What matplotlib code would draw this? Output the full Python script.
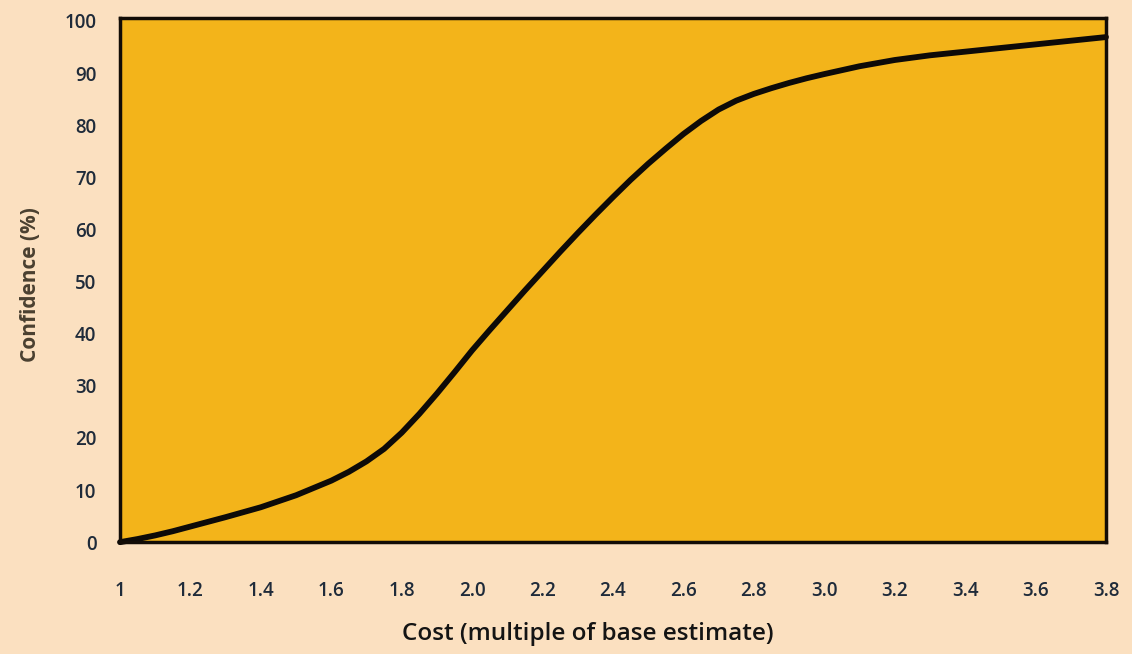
import numpy as np
import matplotlib
matplotlib.use("Agg")
import matplotlib.pyplot as plt

# ==========================
# Data
# ==========================
cost = [1.0, 1.05, 1.1, 1.15, 1.2, 1.3, 1.4, 1.5, 1.6, 1.65, 1.7, 1.75, 1.8,
        1.85, 1.9, 1.95, 2.0, 2.05, 2.1, 2.15, 2.2, 2.25, 2.3, 2.35, 2.4,
        2.45, 2.5, 2.55, 2.6, 2.65, 2.7, 2.75, 2.8, 2.85, 2.9, 2.95, 3.0,
        3.1, 3.2, 3.3, 3.4, 3.5, 3.6, 3.7, 3.8]
confidence = [0.0, 0.6, 1.3, 2.1, 3.0, 4.8, 6.7, 9.0, 11.8, 13.5, 15.5, 17.9,
              21.0, 24.6, 28.5, 32.6, 36.8, 40.7, 44.5, 48.3, 52.0, 55.7,
              59.3, 62.8, 66.2, 69.5, 72.6, 75.5, 78.3, 80.8, 83.0, 84.7,
              86.0, 87.1, 88.1, 89.0, 89.8, 91.3, 92.5, 93.4, 94.1, 94.8,
              95.5, 96.2, 96.9]

x_ticks = [1.0, 1.2, 1.4, 1.6, 1.8, 2.0, 2.2, 2.4, 2.6, 2.8, 3.0, 3.2, 3.4, 3.6, 3.8]
x_tick_labels = ["1", "1.2", "1.4", "1.6", "1.8", "2.0", "2.2", "2.4", "2.6",
                 "2.8", "3.0", "3.2", "3.4", "3.6", "3.8"]
y_ticks = [0, 10, 20, 30, 40, 50, 60, 70, 80, 90, 100]

# ==========================
# Styling
# ==========================
bg = "#fbe0c0"
panel = "#f3b41a"
tick_col = "#1f2b3a"
plt.rcParams['font.family'] = ['Open Sans', 'DejaVu Sans']

fig = plt.figure(figsize=(11.32, 6.54), dpi=100, facecolor=bg)
ax = fig.add_axes([0.106, 0.171, 0.871, 0.801])
ax.set_facecolor(panel)

ax.plot(cost, confidence, color="#0d0a08", lw=4.2,
        solid_joinstyle="round", solid_capstyle="round", clip_on=False)

ax.set_xlim(1.0, 3.8)
ax.set_ylim(0, 100.5)
ax.set_xticks(x_ticks)
ax.set_xticklabels(x_tick_labels)
ax.set_yticks(y_ticks)

for s in ax.spines.values():
    s.set_linewidth(2.5)
    s.set_color("#120c06")

ax.tick_params(axis="x", length=0, pad=28, labelsize=13.5, labelcolor=tick_col)
ax.tick_params(axis="y", length=0, pad=17, labelsize=13.5, labelcolor=tick_col)
for lbl in ax.get_xticklabels() + ax.get_yticklabels():
    lbl.set_fontweight("semibold")

fig.text(0.519, 0.012, "Cost (multiple of base estimate)", ha="center", va="bottom",
         fontsize=17.5, color="#141414", fontweight="semibold")
fig.text(0.027, 0.565, "Confidence (%)", ha="center", va="center", rotation=90,
         fontsize=15, color="#4a4030", fontweight="bold")

fig.savefig("out.png", dpi=100, facecolor=bg)
